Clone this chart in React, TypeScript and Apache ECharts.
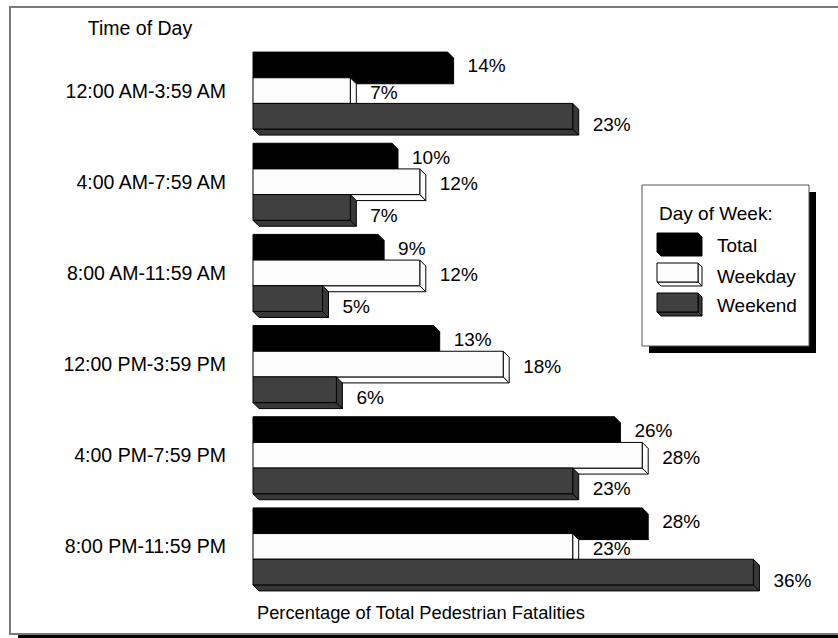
import React, { useEffect, useRef } from "react";
import * as echarts from "echarts";

const categories = [
  "12:00 AM-3:59 AM",
  "4:00 AM-7:59 AM",
  "8:00 AM-11:59 AM",
  "12:00 PM-3:59 PM",
  "4:00 PM-7:59 PM",
  "8:00 PM-11:59 PM",
];
const totalValues = [14, 10, 9, 13, 26, 28];
const weekdayValues = [7, 12, 12, 18, 28, 23];
const weekendValues = [23, 7, 5, 6, 23, 36];
const seriesNames = ["Total", "Weekday", "Weekend"];

const FONT = "'Liberation Sans', Arial, Helvetica, sans-serif";
const faceColors = [
  { front: "#000000", side: "#000000", stroke: "#000000" },
  { front: "#fcfcfc", side: "#fcfcfc", stroke: "#000000" },
  { front: "#404040", side: "#383838", stroke: "#000000" },
];
const labelOffsets = [1, 2, 8];

function makeRender(si: number) {
  return (params: any, api: any) => {
    const v = api.value(0);
    const c = api.value(1);
    const p0 = api.coord([0, c]);
    const p1 = api.coord([v, c]);
    const band = api.size([0, 1])[1];
    const h = band * 0.2815;
    const d = 6;
    const x0 = p0[0];
    const x1 = p1[0];
    const y0 = p0[1] - 1.5 * h + si * h;
    const y1 = y0 + h;
    const col = faceColors[si];
    return {
      type: "group",
      children: [
        {
          type: "polygon",
          shape: { points: [[x0, y1], [x1, y1], [x1 + d, y1 + d], [x0 + d, y1 + d]] },
          style: { fill: col.side, stroke: col.stroke, lineWidth: 1 },
        },
        {
          type: "polygon",
          shape: { points: [[x1, y0], [x1 + d, y0 + d], [x1 + d, y1 + d], [x1, y1]] },
          style: { fill: col.side, stroke: col.stroke, lineWidth: 1 },
        },
        {
          type: "rect",
          shape: { x: x0, y: y0, width: x1 - x0, height: h },
          style: { fill: col.front, stroke: col.stroke, lineWidth: 1 },
        },
        {
          type: "text",
          style: {
            text: v + "%",
            x: x1 + d + 14,
            y: (y0 + y1) / 2 + labelOffsets[si],
            fill: "#000",
            fontSize: 19,
            fontFamily: FONT,
            align: "left",
            verticalAlign: "middle",
          },
        },
      ],
    };
  };
}

export default function App() {
  const ref = useRef<HTMLDivElement>(null);
  useEffect(() => {
    document.body.style.margin = "0";
    const chart = echarts.init(ref.current!, null, { renderer: "svg" });
    const allValues = [totalValues, weekdayValues, weekendValues];

    const legendChildren: any[] = [];
    const swY = [233, 263, 293];
    const txtY = [245, 276, 305];
    seriesNames.forEach((name, i) => {
      const x0 = 657, w = 41, h = 19, d = 4, y0 = swY[i];
      const x1 = x0 + w, y1 = y0 + h;
      const col = faceColors[i];
      legendChildren.push(
        {
          type: "polygon",
          shape: { points: [[x0, y1], [x1, y1], [x1 + d, y1 + d], [x0 + d, y1 + d]] },
          style: { fill: col.side, stroke: col.stroke, lineWidth: 1 },
        },
        {
          type: "polygon",
          shape: { points: [[x1, y0], [x1 + d, y0 + d], [x1 + d, y1 + d], [x1, y1]] },
          style: { fill: col.side, stroke: col.stroke, lineWidth: 1 },
        },
        {
          type: "rect",
          shape: { x: x0, y: y0, width: w, height: h },
          style: { fill: col.front, stroke: col.stroke, lineWidth: 1 },
        },
        {
          type: "text",
          style: {
            text: name,
            x: 717,
            y: txtY[i],
            fill: "#000",
            fontSize: 19,
            fontFamily: FONT,
            align: "left",
            verticalAlign: "middle",
          },
        }
      );
    });

    chart.setOption({
      animation: false,
      backgroundColor: "#ffffff",
      grid: { left: 253, width: 556, top: 45, height: 547 },
      xAxis: {
        type: "value",
        min: 0,
        max: 40,
        show: false,
      },
      yAxis: {
        type: "category",
        data: categories,
        inverse: true,
        axisLine: { show: false },
        axisTick: { show: false },
        splitLine: { show: false },
        axisLabel: {
          margin: 27,
          color: "#000",
          fontSize: 19.5,
          fontFamily: FONT,
        },
      },
      graphic: [
        {
          type: "rect",
          shape: { x: 18, y: 635, width: 830, height: 8 },
          style: { fill: "#000" },
          silent: true,
        },
        {
          type: "rect",
          shape: { x: 10, y: 7, width: 840, height: 627 },
          style: { fill: "none", stroke: "#7a7a7a", lineWidth: 2 },
          silent: true,
        },
        {
          type: "text",
          style: {
            text: "Time of Day",
            x: 140,
            y: 28,
            fill: "#000",
            fontSize: 19.5,
            fontFamily: FONT,
            align: "center",
            verticalAlign: "middle",
          },
        },
        {
          type: "text",
          style: {
            text: "Percentage of Total Pedestrian Fatalities",
            x: 257,
            y: 612,
            fill: "#000",
            fontSize: 18.3,
            fontFamily: FONT,
            align: "left",
            verticalAlign: "middle",
          },
        },
        {
          type: "rect",
          shape: { x: 649, y: 192, width: 167, height: 161 },
          style: { fill: "#000" },
        },
        {
          type: "rect",
          shape: { x: 642, y: 185, width: 167, height: 161 },
          style: { fill: "#fff", stroke: "#555", lineWidth: 1 },
        },
        {
          type: "text",
          style: {
            text: "Day of Week:",
            x: 659,
            y: 213,
            fill: "#000",
            fontSize: 19,
            fontFamily: FONT,
            align: "left",
            verticalAlign: "middle",
          },
        },
        ...legendChildren,
      ],
      series: seriesNames.map((name, si) => ({
        type: "custom",
        name,
        clip: false,
        silent: true,
        encode: { x: 0, y: 1 },
        renderItem: makeRender(si),
        data: allValues[si].map((v, i) => [v, i]),
      })),
    });
    return () => chart.dispose();
  }, []);
  return <div ref={ref} style={{ width: 838, height: 638 }} />;
}
